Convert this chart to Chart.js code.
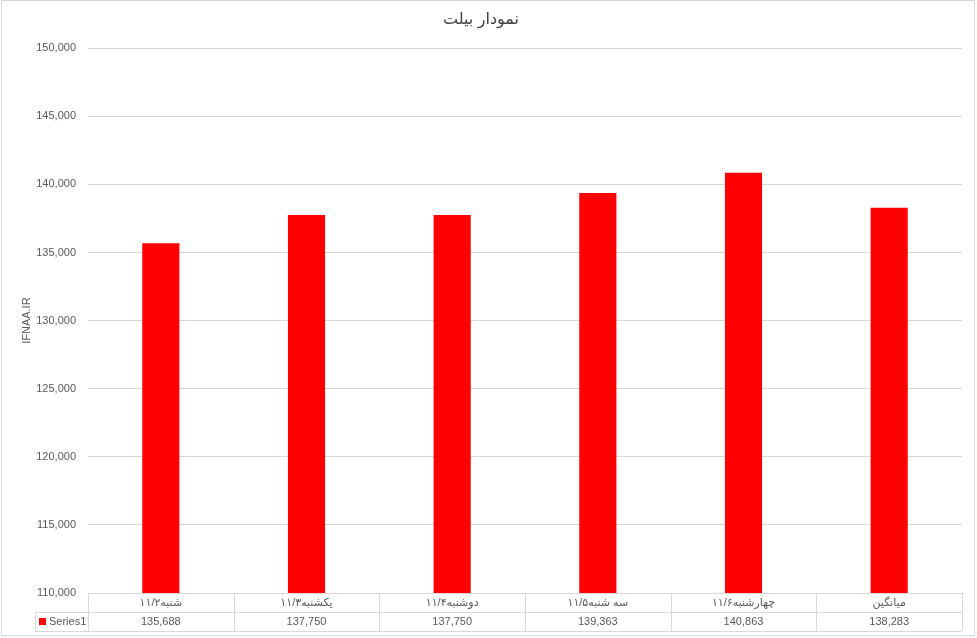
<!DOCTYPE html>
<html>
<head>
<meta charset="utf-8">
<script src="https://cdn.jsdelivr.net/npm/chart.js@4"></script>
<style>
  body { margin: 0; background: #fff; }
  #wrap { width: 977px; height: 638px; }
</style>
</head>
<body>
<div id="wrap"><canvas id="myChart" width="977" height="638"></canvas></div>
<script>
const categories = ['شنبه۱۱/۲', 'یکشنبه۱۱/۳', 'دوشنبه۱۱/۴', 'سه شنبه۱۱/۵', 'چهارشنبه۱۱/۶', 'میانگین'];
const series1 = [135688, 137750, 137750, 139363, 140863, 138283];
const seriesName = 'Series1';
const yTicks = { min: 110000, max: 150000, step: 5000 };

const fontFamily = '"Liberation Sans", "DejaVu Sans", Arial, sans-serif';
const gridColor = '#d9d9d9';
const textColor = '#595959';

function fmt(v) {
	return v.toLocaleString('en-US');
}

// draws the data table under the bars (grid, legend key)
const dataTable = {
	id: 'dataTable',
	afterDraw(chart) {
		const ctx = chart.ctx;
		const x = chart.scales.x;
		const area = chart.chartArea;
		const top = area.bottom;
		const row = 19;
		ctx.save();
		ctx.strokeStyle = gridColor;
		ctx.lineWidth = 1;
		ctx.beginPath();
		// horizontal rows
		ctx.moveTo(area.left, top + 0.5);
		ctx.lineTo(area.right, top + 0.5);
		ctx.moveTo(35, Math.round(top + row) + 0.5);
		ctx.lineTo(area.right, Math.round(top + row) + 0.5);
		ctx.moveTo(35, Math.round(top + row * 2) + 0.5);
		ctx.lineTo(area.right, Math.round(top + row * 2) + 0.5);
		// column edges
		const w = (area.right - area.left) / categories.length;
		for (let i = 0; i <= categories.length; i++) {
			const px = Math.round(x.getPixelForValue(i) - w / 2) + 0.5;
			ctx.moveTo(px, top);
			ctx.lineTo(px, top + row * 2);
		}
		ctx.moveTo(35.5, Math.round(top + row));
		ctx.lineTo(35.5, Math.round(top + row * 2));
		ctx.stroke();
		// legend key
		ctx.fillStyle = '#ff0000';
		ctx.fillRect(39, top + row + 6, 7, 7);
		ctx.fillStyle = textColor;
		ctx.font = '11px ' + fontFamily;
		ctx.textBaseline = 'middle';
		ctx.textAlign = 'left';
		ctx.fillText(seriesName, 49, top + row * 1.5);
		// outer border
		ctx.strokeStyle = gridColor;
		ctx.strokeRect(1.5, 0.5, 973, 635);
		ctx.restore();
	}
};

const ctx = document.getElementById('myChart').getContext('2d');
const myChart = new Chart(ctx, {
	type: 'bar',
	data: {
		labels: categories,
		datasets: [{
			label: seriesName,
			data: series1,
			backgroundColor: '#ff0000',
			borderWidth: 0,
			barPercentage: 0.5,
			categoryPercentage: 0.51
		}]
	},
	options: {
		responsive: false,
		animation: false,
		layout: { padding: { left: 0, right: 15, top: 0, bottom: 7 } },
		plugins: {
			legend: { display: false },
			tooltip: { enabled: false },
			title: {
				display: true,
				text: 'نمودار بیلت',
				color: '#404040',
				font: { family: fontFamily, size: 16, weight: 'normal' },
				padding: { top: 10, bottom: 19 }
			}
		},
		scales: {
			x: {
				grid: { display: false, drawTicks: false },
				border: { display: false },
				afterFit(scale) { scale.height = 38; },
				ticks: {
					color: textColor,
					padding: 0,
					maxRotation: 0,
					autoSkip: false,
					font: { family: fontFamily, size: 11, lineHeight: 19 / 11 },
					callback: (v, i) => [categories[i], fmt(series1[i])]
				}
			},
			y: {
				min: yTicks.min,
				max: yTicks.max,
				afterFit(scale) { scale.width = 88; },
				grid: { color: gridColor, drawTicks: false },
				border: { display: false },
				ticks: {
					stepSize: yTicks.step,
					color: textColor,
					padding: 12,
					font: { family: fontFamily, size: 11 },
					callback: v => fmt(v)
				},
				title: {
					display: true,
					text: 'IFNAA.IR',
					color: textColor,
					font: { family: fontFamily, size: 11 },
					padding: { top: 20, bottom: 0 }
				}
			}
		}
	},
	plugins: [dataTable]
});
</script>
</body>
</html>
